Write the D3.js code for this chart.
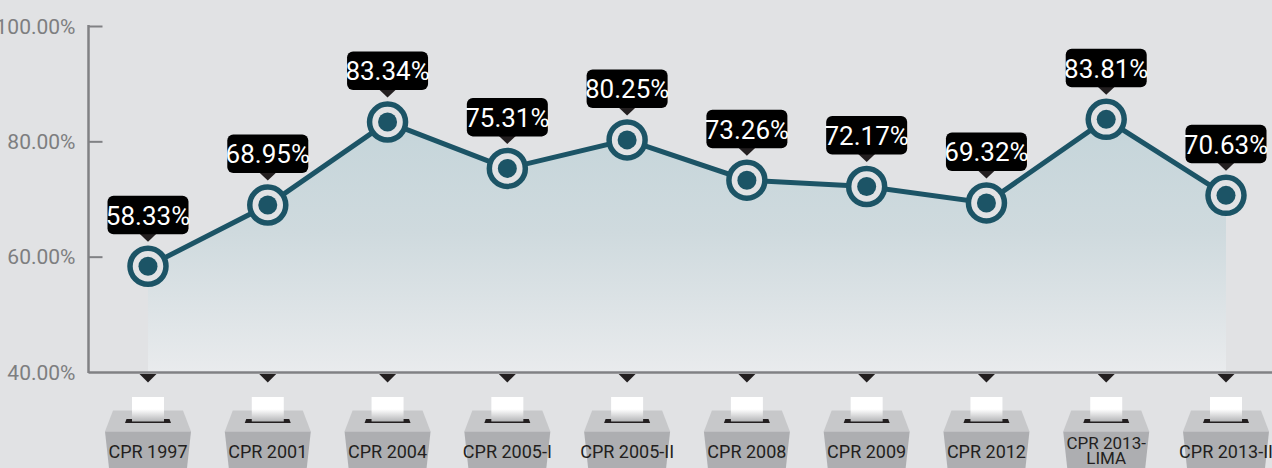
<!DOCTYPE html>
<html><head><meta charset="utf-8">
<script src="https://cdn.jsdelivr.net/npm/d3@7/dist/d3.min.js"></script>
<style>html,body{margin:0;padding:0;background:#e1e2e4;overflow:hidden}
text{font-family:"Liberation Sans Narrow","Roboto","Open Sans",sans-serif}</style></head>
<body><svg id="c" width="1272" height="468"></svg>
<script>
const categories=["CPR 1997","CPR 2001","CPR 2004","CPR 2005-I","CPR 2005-II","CPR 2008","CPR 2009","CPR 2012","CPR 2013-\nLIMA","CPR 2013-II"];
const values=[58.33,68.95,83.34,75.31,80.25,73.26,72.17,69.32,83.81,70.63];
const yTicks=[40,60,80,100];
const svg=d3.select("#c");
const x=d3.scalePoint().domain(categories).range([148,1226]);
const y=d3.scaleLinear().domain([40,100]).range([372,26]);
const ink="#1c5466",bg="#e1e2e4";
const defs=svg.append("defs");
const g1=defs.append("linearGradient").attr("id","area").attr("gradientUnits","userSpaceOnUse").attr("x1",0).attr("x2",0).attr("y1",y(83.81)).attr("y2",372);
g1.append("stop").attr("offset",0).attr("stop-color","#c5d5da");
g1.append("stop").attr("offset",.45).attr("stop-color","#cfdade");
g1.append("stop").attr("offset",1).attr("stop-color","#e9ebed");
const g2=defs.append("linearGradient").attr("id","paper").attr("x1",0).attr("x2",0).attr("y1",0).attr("y2",1);
g2.append("stop").attr("offset",0).attr("stop-color","#fff");
g2.append("stop").attr("offset",.5).attr("stop-color","#fff");
g2.append("stop").attr("offset",1).attr("stop-color","#b5b6b8");
const pts=categories.map((c,i)=>({c,v:values[i]}));
svg.append("path").datum(pts).attr("fill","url(#area)").attr("d",d3.area().x(d=>x(d.c)).y0(372).y1(d=>y(d.v)));
// axis
const axis=d3.axisLeft(y).tickValues(yTicks).tickFormat(d=>d3.format(".2f")(d)+"%").tickSize(0).tickPadding(13);
const ga=svg.append("g").attr("transform","translate(88.5,0)");
ga.call(axis);
ga.select(".domain").remove();
ga.selectAll("text").attr("fill","#7d7e80").style("font-size","21px").attr("dy","0.34em");
ga.selectAll(".tick").append("line").attr("x1",0).attr("x2",d=>d==100?14:(d==40?1183.5:14)).attr("stroke","#808184").attr("stroke-width",d=>d==40?2.5:2);
ga.append("line").attr("y1",25).attr("y2",373).attr("stroke","#808184").attr("stroke-width",2.5);
svg.append("path").datum(pts).attr("fill","none").attr("stroke",ink).attr("stroke-width",5).attr("d",d3.line().x(d=>x(d.c)).y(d=>y(d.v)));
const n=svg.selectAll(".pt").data(pts).join("g").attr("class","pt").attr("transform",d=>`translate(${x(d.c)},${y(d.v)})`);
n.append("circle").attr("r",18).attr("fill",bg).attr("stroke",ink).attr("stroke-width",5.5);
n.append("circle").attr("r",9.5).attr("fill",ink);
n.append("path").attr("d","M-9,-33L9,-33L0,-24.5Z").attr("fill","#231f20");
n.append("rect").attr("x",-40.5).attr("y",-70.5).attr("width",81).attr("height",38.5).attr("rx",6).attr("fill","#000");
n.append("text").attr("y",-51).attr("dy","0.36em").attr("text-anchor","middle").attr("fill","#fff").style("font-size","26px").text(d=>d3.format(".2f")(d.v)+"%");
// boxes
const b=svg.selectAll(".box").data(categories).join("g").attr("class","box").attr("transform",d=>`translate(${x(d)},0)`);
b.append("path").attr("d","M-8.5,374L8.5,374L0,382.5Z").attr("fill","#231f20");
b.append("path").attr("d","M-35,410.5L35,410.5L43,431.5L-43,431.5Z").attr("fill","#c7c8ca");
b.append("path").attr("d","M-43,431.5L43,431.5L39,468L-39,468Z").attr("fill","#adaeb1");
b.append("path").attr("d","M-21.5,419L21.5,419L23,423L-23,423Z").attr("fill","#231f20");
b.append("rect").attr("x",-16).attr("y",397).attr("width",32).attr("height",24.5).attr("fill","url(#paper)");
b.each(function(d){
  const lines=d.split("\n");
  const t=d3.select(this).append("text").attr("text-anchor","middle").attr("fill","#231f20").style("font-size",lines.length>1?"17px":"18px");
  lines.forEach((l,i)=>t.append("tspan").attr("x",0).attr("y",lines.length>1?449+i*15:458).text(l));
});
</script></body></html>
